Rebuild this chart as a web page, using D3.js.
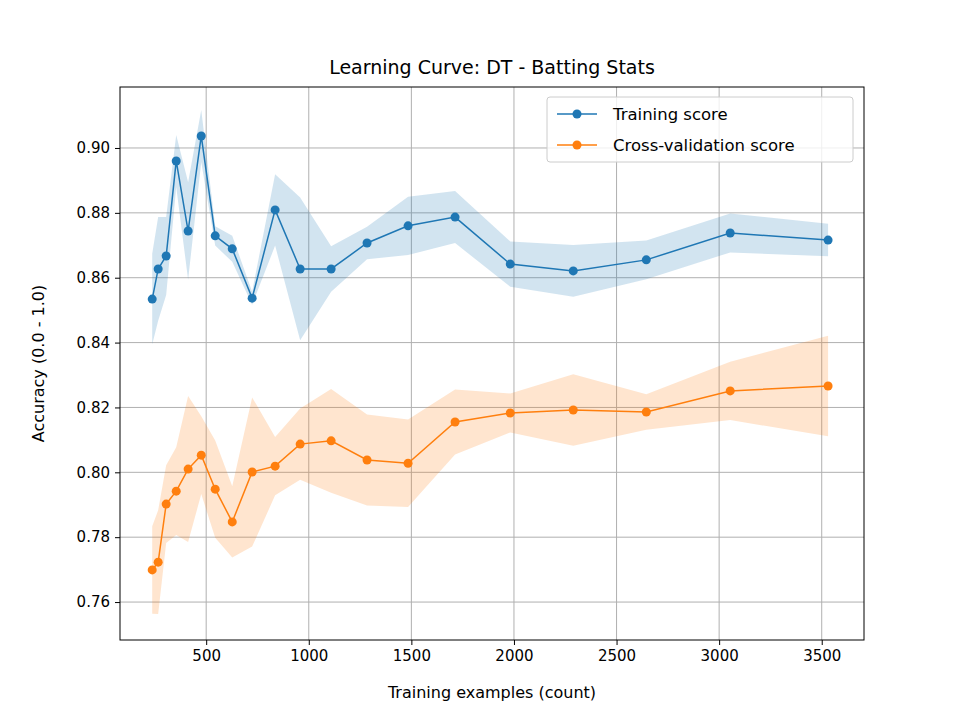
<!DOCTYPE html>
<html><head><meta charset="utf-8">
<script src="https://cdn.jsdelivr.net/npm/d3@7"></script>
<style>body{margin:0;background:#fff}text{font-family:"DejaVu Sans",sans-serif}</style>
</head><body>
<script>
var sizes = [237,266,305,354,412,476,544,627,724,836,958,1109,1284,1484,1713,1982,2289,2645,3054,3531];
var trainMean = [0.8534,0.8627,0.8667,0.8960,0.8744,0.9037,0.8729,0.8689,0.8537,0.8809,0.8627,0.8627,0.8707,0.8760,0.8787,0.8642,0.8621,0.8655,0.8738,0.8716];
var trainStd = [0.014,0.016,0.012,0.008,0.015,0.008,0.003,0.004,0.002,0.011,0.022,0.007,0.005,0.009,0.008,0.007,0.008,0.006,0.006,0.005];
var cvMean = [0.7699,0.7723,0.7902,0.7942,0.8010,0.8053,0.7948,0.7847,0.8001,0.8019,0.8087,0.8097,0.8038,0.8028,0.8155,0.8183,0.8192,0.8186,0.8251,0.8266];
var cvStd = [0.0135,0.016,0.012,0.0135,0.0225,0.012,0.015,0.011,0.023,0.009,0.011,0.016,0.014,0.0135,0.010,0.006,0.011,0.0055,0.009,0.0155];
var xTicks = [500,1000,1500,2000,2500,3000,3500];
var yTicks = [0.76,0.78,0.80,0.82,0.84,0.86,0.88,0.90];

var W=960,H=720,L=120,R=864,T=87,B=640;
var svg=d3.select("body").append("svg").attr("width",W).attr("height",H);
var x=d3.scaleLinear().domain([80,3706]).range([L,R]);
var y=d3.scaleLinear().domain([0.7483,0.9188]).range([B,T]);

//grid
svg.selectAll(".gx").data(xTicks).enter().append("line")
  .attr("x1",d=>x(d)).attr("x2",d=>x(d)).attr("y1",T).attr("y2",B)
  .attr("stroke","#b0b0b0").attr("stroke-width",1);
svg.selectAll(".gy").data(yTicks).enter().append("line")
  .attr("y1",d=>y(d)).attr("y2",d=>y(d)).attr("x1",L).attr("x2",R)
  .attr("stroke","#b0b0b0").attr("stroke-width",1);

function band(mean,std,col){
  var area=d3.area().x((d,i)=>x(sizes[i])).y0((d,i)=>y(mean[i]-std[i])).y1((d,i)=>y(mean[i]+std[i]));
  svg.append("path").datum(mean).attr("d",area).attr("fill",col).attr("fill-opacity",0.2);
}
function series(mean,col){
  var line=d3.line().x((d,i)=>x(sizes[i])).y(d=>y(d));
  svg.append("path").datum(mean).attr("d",line).attr("fill","none").attr("stroke",col).attr("stroke-width",1.5);
  svg.selectAll(null).data(mean).enter().append("circle")
    .attr("cx",(d,i)=>x(sizes[i])).attr("cy",d=>y(d)).attr("r",4.5).attr("fill",col);
}
band(trainMean,trainStd,"#1f77b4");
band(cvMean,cvStd,"#ff7f0e");
series(trainMean,"#1f77b4");
series(cvMean,"#ff7f0e");

//axes
svg.append("g").attr("transform","translate(0,"+B+")")
  .call(d3.axisBottom(x).tickValues(xTicks).tickFormat(d3.format("d")).tickSizeOuter(0).tickSize(5).tickPadding(5))
  .call(g=>g.select(".domain").remove());
svg.append("g").attr("transform","translate("+L+",0)")
  .call(d3.axisLeft(y).tickValues(yTicks).tickFormat(d3.format(".2f")).tickSizeOuter(0).tickSize(5).tickPadding(5))
  .call(g=>g.select(".domain").remove());
svg.selectAll(".tick text").attr("font-size",15).attr("fill","#000");
svg.append("rect").attr("x",L).attr("y",T).attr("width",R-L).attr("height",B-T)
  .attr("fill","none").attr("stroke","#000").attr("stroke-width",1);

svg.append("text").attr("x",(L+R)/2).attr("y",74).attr("text-anchor","middle").attr("font-size",19).text("Learning Curve: DT - Batting Stats");
svg.append("text").attr("x",(L+R)/2).attr("y",698).attr("text-anchor","middle").attr("font-size",16).text("Training examples (count)");
svg.append("text").attr("transform","translate(44,"+(T+B)/2+") rotate(-90)").attr("text-anchor","middle").attr("font-size",16).text("Accuracy (0.0 - 1.0)");

//legend
var lg=svg.append("g");
lg.append("rect").attr("x",547).attr("y",97).attr("width",306).attr("height",65).attr("rx",3)
  .attr("fill","#fff").attr("fill-opacity",0.8).attr("stroke","#ccc");
[["Training score","#1f77b4"],["Cross-validation score","#ff7f0e"]].forEach(function(d,i){
  var yy=114+i*31;
  lg.append("line").attr("x1",557).attr("x2",597).attr("y1",yy).attr("y2",yy).attr("stroke",d[1]).attr("stroke-width",1.5);
  lg.append("circle").attr("cx",577).attr("cy",yy).attr("r",4.5).attr("fill",d[1]);
  lg.append("text").attr("x",613).attr("y",yy+6).attr("font-size",16.5).text(d[0]);
});
</script>
</body></html>
